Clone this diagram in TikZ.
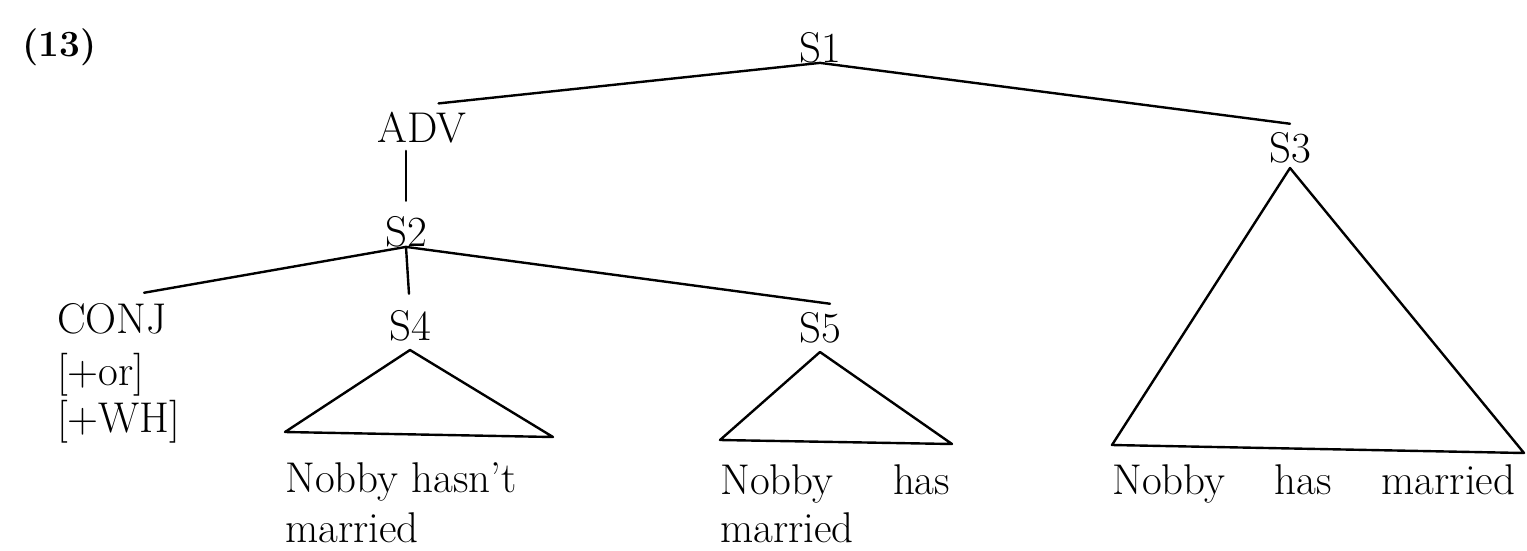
\documentclass[tikz,border=0pt]{standalone}
\usetikzlibrary{calc}
\begin{document}
\begin{tikzpicture}[x=1pt,y=-1pt,
  lab/.style={inner sep=0pt,anchor=base,font=\fontsize{43}{50}\selectfont},
  labw/.style={inner sep=0pt,anchor=base west,font=\fontsize{43}{50}\selectfont},
  edge/.style={line width=2.4pt,line cap=round,line join=round}]
\useasboundingbox (0,0) rectangle (1527,550);
% labels
\node[labw,font=\fontsize{37}{44}\selectfont\bfseries] (num) at (22,56) {(13)};
\node[lab] (s1) at (820,62) {S1};
\node[lab] (adv) at (422,142) {ADV};
\node[lab] (s3) at (1290,162) {S3};
\node[lab] (s2) at (406,246) {S2};
\node[labw] (conj) at (57,333) {CONJ};
\node[labw] (por) at (57,385) {[+or]};
\node[labw] (pwh) at (57,432) {[+WH]};
\node[lab] (s4) at (410,340) {S4};
\node[lab] (s5) at (820,342) {S5};
% terminal strings
\node[labw] (t4a) at (285,492) {Nobby hasn't};
\node[labw] (t4b) at (285,542) {married};
\node[labw] (t5a) at (720,494) {\makebox[230pt][s]{Nobby has}};
\node[labw] (t5b) at (720,542) {married};
\node[labw] (t3a) at (1112,494) {\makebox[403pt][s]{Nobby has married}};
% triangle corners
\coordinate (a4) at (410,350); \coordinate (l4) at (285,432); \coordinate (r4) at (553,437);
\coordinate (a5) at (820,352); \coordinate (l5) at (720,440); \coordinate (r5) at (952,444);
\coordinate (a3) at (1290,168); \coordinate (l3) at (1112,445); \coordinate (r3) at (1524,453);
% edges
\draw[edge] (s1.south) -- ($(adv.north east)+(-28,-8)$);
\draw[edge] (s1.south) -- ($(s3.north)+(0,-8)$);
\draw[edge,shorten <=8pt,shorten >=15pt] (adv.south -| s2.north) -- (s2.north);
\draw[edge] (s2.south) -- ($(conj.north)+(32,-10)$);
\draw[edge,shorten >=16pt] (s2.south) -- (s4.north);
\draw[edge] (s2.south) -- ($(s5.north)+(10,-8)$);
\draw[edge] (a4) -- (l4) -- (r4) -- cycle;
\draw[edge] (a5) -- (l5) -- (r5) -- cycle;
\draw[edge] (a3) -- (l3) -- (r3) -- cycle;
\end{tikzpicture}
\end{document}
